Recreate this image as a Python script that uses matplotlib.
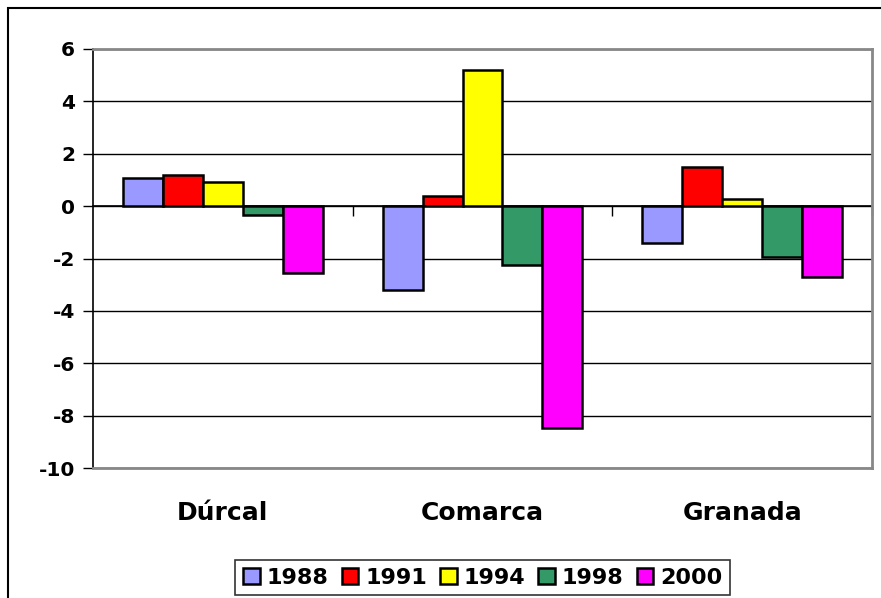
import matplotlib.pyplot as plt
import matplotlib.patches as patches
import numpy as np

# data
categories = ['Dúrcal', 'Comarca', 'Granada']
years = ['1988', '1991', '1994', '1998', '2000']
v1988 = [1.07, -3.2, -1.39]
v1991 = [1.17, 0.39, 1.51]
v1994 = [0.94, 5.19, 0.28]
v1998 = [-0.34, -2.26, -1.94]
v2000 = [-2.56, -8.46, -2.69]
yticks = [6, 4, 2, 0, -2, -4, -6, -8, -10]

series = [v1988, v1991, v1994, v1998, v2000]
colors = ['#9999FF', '#FF0000', '#FFFF00', '#339966', '#FF00FF']

plt.rcParams['font.family'] = 'DejaVu Sans'
plt.rcParams['font.weight'] = 'bold'

fig = plt.figure(figsize=(8.81, 5.98), dpi=100)
ax = fig.add_axes([93 / 881, 1 - 468 / 598, (872 - 93) / 881, (468 - 49) / 598])

x = np.arange(len(categories))
w = 0.154
for i, (vals, yr) in enumerate(zip(series, years)):
    ax.bar(x + (i - 2) * w, vals, w, color=colors[i], edgecolor='black',
           linewidth=1.8, label=yr, zorder=3)

ymin, ymax = min(yticks), max(yticks)
ax.set_ylim(ymin, ymax)
ax.set_xlim(-0.5, len(categories) - 0.5)
ax.set_yticks(yticks)
ax.set_yticklabels([str(t) for t in yticks], fontsize=14.5, fontweight='bold')
ax.tick_params(axis='y', direction='out', length=7, width=1, pad=6)
ax.yaxis.grid(True, color='black', linewidth=1)
ax.set_axisbelow(True)
ax.set_xticks([])

for s in ['top', 'right', 'bottom']:
    ax.spines[s].set_color('#888888')
    ax.spines[s].set_linewidth(2)
ax.spines['left'].set_color('black')
ax.spines['left'].set_linewidth(1.2)

# category axis at zero with tick marks between the groups
zero_pos = (0 - ymin) / (ymax - ymin)
sec = ax.secondary_xaxis(zero_pos)
sec.set_xticks(list(x + 0.5))
sec.set_xticklabels([])
sec.tick_params(direction='in', length=7, width=1)
for s in sec.spines.values():
    s.set_color('black')
    s.set_linewidth(1.2)

# category labels under the plot area
for xi, name in zip(x, categories):
    ax.text(xi, -0.107, name, transform=ax.get_xaxis_transform(),
            ha='center', va='center', fontsize=18, fontweight='bold')

leg = fig.legend(loc='center', bbox_to_anchor=(0.548, 0.034), ncol=5,
                 fontsize=16, frameon=True, fancybox=False, edgecolor='black',
                 handlelength=0.75, handleheight=0.75, handletextpad=0.3,
                 columnspacing=0.6, borderpad=0.35, borderaxespad=0)
leg.get_frame().set_linewidth(1.2)
for t in leg.get_texts():
    t.set_fontweight('bold')

# outer chart border
fig.patches.append(patches.Rectangle((8 / 881, -0.1), 1.2, 1.1 - 8 / 598,
                                     transform=fig.transFigure, fill=False,
                                     edgecolor='black', linewidth=1.5))

fig.savefig('out.png', dpi=100)
